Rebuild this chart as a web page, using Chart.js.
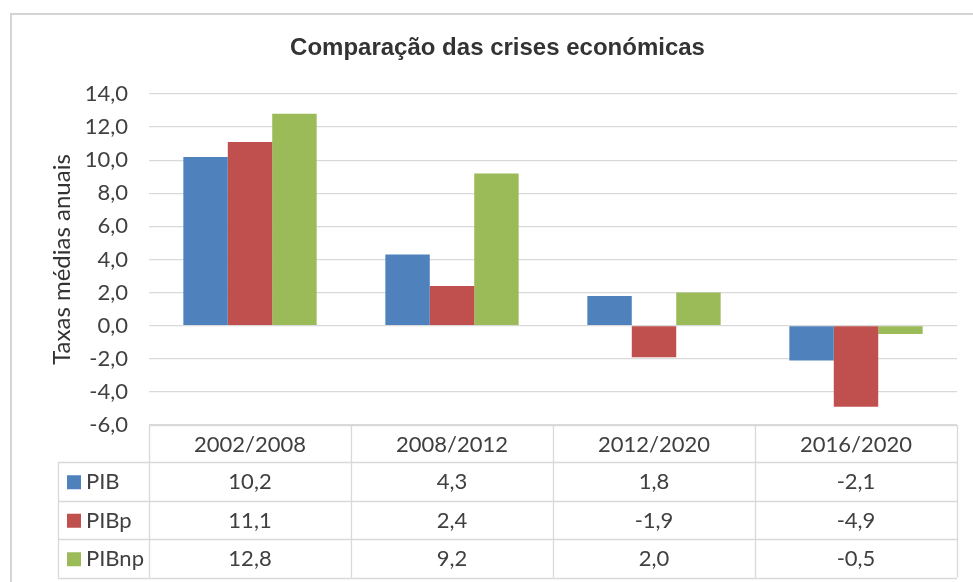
<!DOCTYPE html>
<html>
<head>
<meta charset="utf-8">
<script src="https://cdn.jsdelivr.net/npm/chart.js@4"></script>
<style>
  html,body{margin:0;padding:0;background:#fff;}
  canvas{display:block;}
</style>
</head>
<body>
<canvas id="crisesChart" width="973" height="582"></canvas>
<script>
/* ========= DATA ========= */
const CATEGORIES = ["2002/2008","2008/2012","2012/2020","2016/2020"];
const SERIES     = ["PIB","PIBp","PIBnp"];
const PIB   = [10.2, 4.3, 1.8, -2.1];
const PIBP  = [11.1, 2.4, -1.9, -4.9];
const PIBNP = [12.8, 9.2, 2.0, -0.5];
const Y_TICKS = [-6,-4,-2,0,2,4,6,8,10,12,14];

const COLORS = ["#4F81BD","#C0504D","#9BBB59"];
const GRID = "#D9D9D9";
const TEXT = "#404040";
const FONT = "Lato, 'Open Sans', sans-serif";

const fmt = v => v.toFixed(1).replace(".", ",");

/* ========= OUTER FRAME ========= */
const frame = {
  id:"frame",
  beforeDraw(chart){
    const c = chart.ctx;
    c.save();
    c.fillStyle = "#fff";
    c.fillRect(0,0,chart.width,chart.height);
    c.strokeStyle = "#D4D4D4";
    c.lineWidth = 2;
    c.strokeRect(11,14,chart.width,chart.height);
    c.restore();
  }
};

/* ========= DATA TABLE ========= */
const dataTable = {
  id:"dataTable",
  afterDraw(chart){
    const c = chart.ctx, x = chart.scales.x, area = chart.chartArea;
    const top = area.bottom, headH = 37, rowH = 38.5, legLeft = 58;
    const n = CATEGORIES.length;
    const edges = [area.left];
    for(let i=0;i<n-1;i++) edges.push((x.getPixelForValue(i)+x.getPixelForValue(i+1))/2);
    edges.push(area.right);
    const bottom = top + headH + rowH*SERIES.length;

    c.save();
    c.strokeStyle = GRID;
    c.lineWidth = 1.3;
    c.beginPath();
    // verticals
    edges.forEach(e=>{ c.moveTo(Math.round(e)+0.5, top); c.lineTo(Math.round(e)+0.5, bottom); });
    c.moveTo(legLeft+0.5, top+headH); c.lineTo(legLeft+0.5, bottom);
    // horizontals
    c.moveTo(area.left, top+0.5); c.lineTo(area.right, top+0.5);
    for(let r=0;r<=SERIES.length;r++){
      const y = Math.round(top+headH+rowH*r)+0.5;
      c.moveTo(legLeft, y); c.lineTo(area.right, y);
    }
    c.stroke();

    c.font = "22px " + FONT;
    c.fillStyle = TEXT;
    c.textBaseline = "middle";
    c.textAlign = "center";
    CATEGORIES.forEach((cat,i)=> c.fillText(cat, x.getPixelForValue(i), top+headH/2+1));

    chart.data.datasets.forEach((ds,r)=>{
      const cy = top + headH + rowH*r + rowH/2 + 1;
      c.fillStyle = ds.backgroundColor;
      c.fillRect(67, cy-7, 14, 14);
      c.fillStyle = TEXT;
      c.textAlign = "left";
      c.fillText(ds.label, 86, cy);
      c.textAlign = "center";
      ds.data.forEach((v,i)=> c.fillText(fmt(v), x.getPixelForValue(i), cy));
    });
    c.restore();
  }
};

/* ========= CHART ========= */
new Chart(document.getElementById("crisesChart"),{
  type:"bar",
  data:{
    labels:CATEGORIES,
    datasets:[PIB,PIBP,PIBNP].map((d,i)=>({
      label:SERIES[i],
      data:d,
      backgroundColor:COLORS[i],
      borderWidth:0,
      barPercentage:1,
      categoryPercentage:0.66
    }))
  },
  options:{
    responsive:false,
    animation:false,
    layout:{padding:{left:38,right:16,top:0,bottom:157}},
    plugins:{
      legend:{display:false},
      tooltip:{enabled:false},
      title:{
        display:true,
        text:"Comparação das crises económicas",
        color:"#333",
        font:{family:"'Liberation Sans', Arial, sans-serif",size:24,weight:"bold",lineHeight:1.2},
        padding:{top:34,bottom:31.2}
      }
    },
    scales:{
      x:{display:false},
      y:{
        min:-6,max:14,
        afterBuildTicks:s=>{ s.ticks = Y_TICKS.map(v=>({value:v})); },
        afterFit:s=>{ s.width = 111; },
        border:{display:false},
        grid:{color:GRID,lineWidth:1.3,drawTicks:false},
        ticks:{
          padding:21,
          color:TEXT,
          font:{family:FONT,size:22},
          callback:v=>fmt(v)
        },
        title:{
          display:true,
          text:"Taxas médias anuais",
          color:"#333",
          font:{family:FONT,size:24,lineHeight:1.2},
          padding:{top:9.6,bottom:0}
        }
      }
    }
  },
  plugins:[frame,dataTable]
});
</script>
</body>
</html>
